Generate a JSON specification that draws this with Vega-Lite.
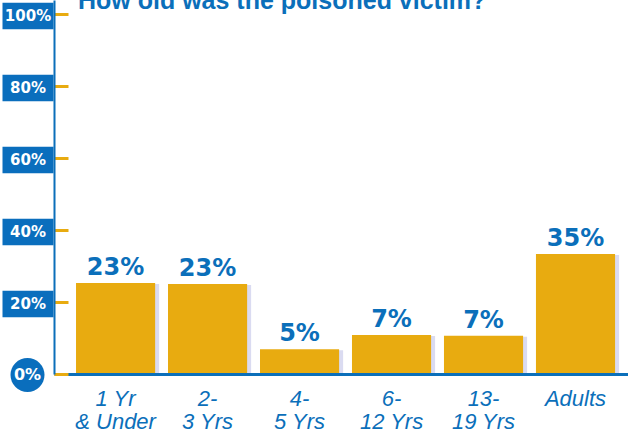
{
  "$schema": "https://vega.github.io/schema/vega-lite/v6.json",
  "width": 574,
  "height": 374,
  "autosize": "none",
  "padding": {"left": 54, "top": 0, "right": 0, "bottom": 61},
  "background": "white",
  "config": {"view": {"stroke": null}},
  "title": {
    "text": "How old was the poisoned victim?",
    "anchor": "start",
    "frame": "group",
    "dx": 24,
    "offset": -34,
    "baseline": "alphabetic",
    "font": "Liberation Sans",
    "fontSize": 25,
    "fontWeight": "bold",
    "color": "#0b6fba"
  },
  "datasets": {
    "bars": [
      {"age": "1 Yr|& Under", "bar": 25.3, "label": "23%"},
      {"age": "2-|3 Yrs", "bar": 25.0, "label": "23%"},
      {"age": "4-|5 Yrs", "bar": 6.9, "label": "5%"},
      {"age": "6-|12 Yrs", "bar": 10.8, "label": "7%"},
      {"age": "13-|19 Yrs", "bar": 10.6, "label": "7%"},
      {"age": "Adults", "bar": 33.3, "label": "35%"}
    ],
    "ticks": [
      {"v": 20, "t": "20%"},
      {"v": 40, "t": "40%"},
      {"v": 60, "t": "60%"},
      {"v": 80, "t": "80%"},
      {"v": 100, "t": "100%"}
    ],
    "zero": [{"v": 0, "t": "0%"}]
  },
  "layer": [
    {
      "data": {"name": "bars"},
      "mark": {"type": "bar", "color": "#aeb0e0", "opacity": 0.45, "xOffset": 4, "yOffset": 1},
      "encoding": {
        "x": {"field": "age", "type": "nominal", "sort": null,
              "scale": {"paddingInner": 0.14, "paddingOuter": 0.19, "align": 0.63},
              "axis": {
                "title": null, "labelAngle": 0, "ticks": false,
                "domainColor": "#0b6fba", "domainWidth": 3,
                "labelExpr": "split(datum.label, '|')",
                "labelFont": "Liberation Sans", "labelFontStyle": "italic",
                "labelFontSize": 22, "labelColor": "#0b6fba",
                "labelPadding": 14, "labelLineHeight": 23, "zindex": 1
              }},
        "y": {"field": "bar", "type": "quantitative",
              "scale": {"domain": [0, 103.89], "nice": false, "zero": true},
              "axis": {
                "title": null, "values": [0, 20, 40, 60, 80, 100], "labels": false,
                "grid": false, "domainColor": "#0b6fba", "domainWidth": 2,
                "tickColor": "#e8ab10", "tickSize": -14, "tickWidth": 3, "zindex": 1
              }}
      }
    },
    {
      "data": {"name": "bars"},
      "mark": {"type": "bar", "color": "#e8ab10"},
      "encoding": {
        "x": {"field": "age", "type": "nominal", "sort": null},
        "y": {"field": "bar", "type": "quantitative"}
      }
    },
    {
      "data": {"name": "bars"},
      "mark": {"type": "text", "font": "DejaVu Sans", "fontWeight": "bold", "fontSize": 24,
               "color": "#0b6fba", "baseline": "alphabetic", "dy": -8},
      "encoding": {
        "x": {"field": "age", "type": "nominal", "sort": null},
        "y": {"field": "bar", "type": "quantitative"},
        "text": {"field": "label"}
      }
    },
    {
      "data": {"name": "ticks"},
      "mark": {"type": "point", "filled": true, "opacity": 1, "color": "#0a6ebd",
               "shape": "M-1,-0.52H1V0.52H-1Z", "size": 2601, "yOffset": 2},
      "encoding": {
        "x": {"value": -26},
        "y": {"field": "v", "type": "quantitative"}
      }
    },
    {
      "data": {"name": "zero"},
      "mark": {"type": "point", "filled": true, "opacity": 1, "color": "#0a6ebd",
               "shape": "circle", "size": 1156, "yOffset": 1},
      "encoding": {
        "x": {"value": -26.5},
        "y": {"field": "v", "type": "quantitative"}
      }
    },
    {
      "data": {"name": "ticks"},
      "mark": {"type": "text", "font": "DejaVu Sans", "fontWeight": "bold", "fontSize": 15,
               "color": "white", "baseline": "middle", "align": "center", "dy": 2},
      "encoding": {
        "x": {"value": -26},
        "y": {"field": "v", "type": "quantitative"},
        "text": {"field": "t"}
      }
    },
    {
      "data": {"name": "zero"},
      "mark": {"type": "text", "font": "DejaVu Sans", "fontWeight": "bold", "fontSize": 16,
               "color": "white", "baseline": "middle", "align": "center", "dy": 1},
      "encoding": {
        "x": {"value": -26.5},
        "y": {"field": "v", "type": "quantitative"},
        "text": {"field": "t"}
      }
    }
  ]
}
